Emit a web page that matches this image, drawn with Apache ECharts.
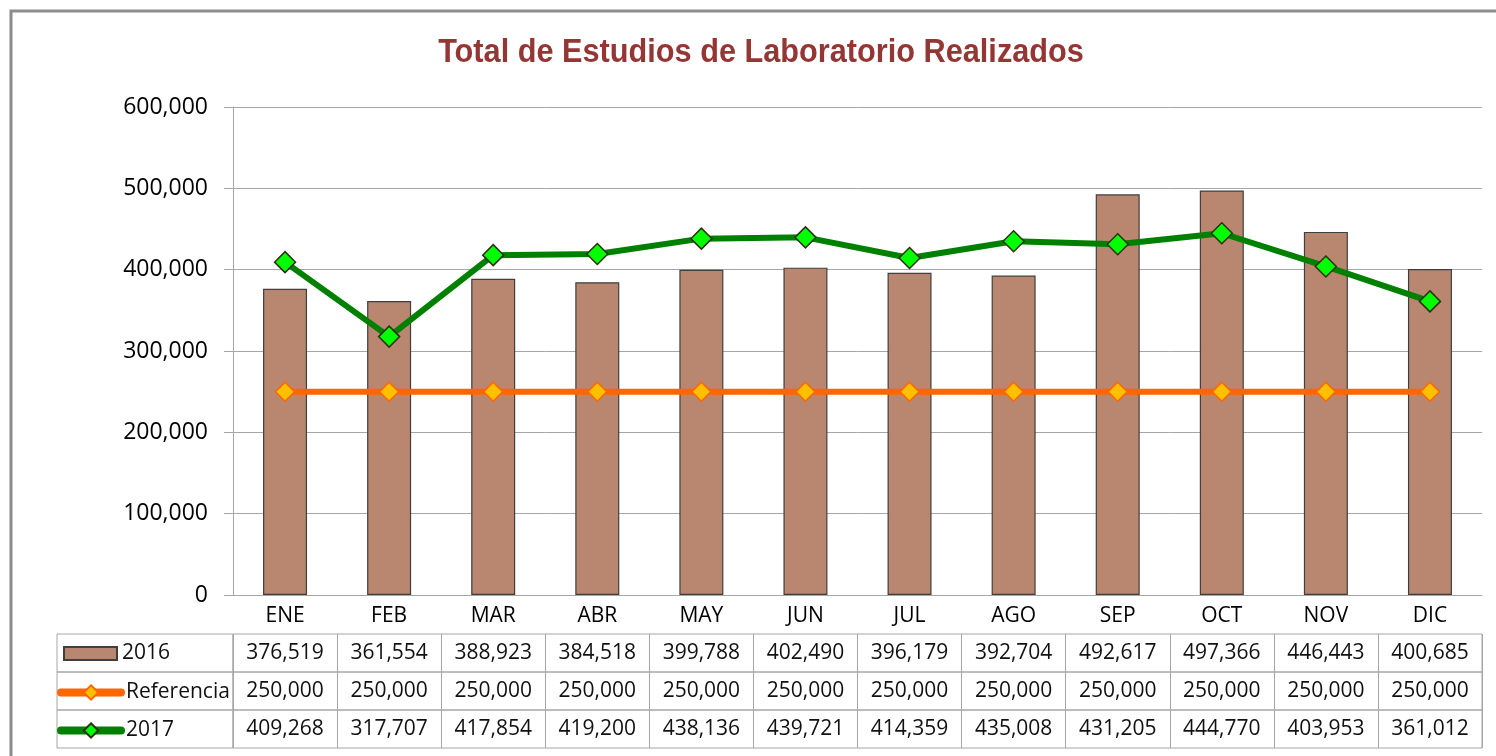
<!DOCTYPE html>
<html>
<head>
<meta charset="utf-8">
<title>Total de Estudios de Laboratorio Realizados</title>
<script src="https://cdn.jsdelivr.net/npm/echarts@6/dist/echarts.min.js"></script>
<style>
	html, body { margin: 0; padding: 0; background: #fff; }
	#chart { width: 1496px; height: 756px; }
</style>
</head>
<body>
<div id="chart"></div>
<script>
// datos del grafico
var meses = ['ENE', 'FEB', 'MAR', 'ABR', 'MAY', 'JUN', 'JUL', 'AGO', 'SEP', 'OCT', 'NOV', 'DIC'];
var datos2016 = [376519, 361554, 388923, 384518, 399788, 402490, 396179, 392704, 492617, 497366, 446443, 400685];
var referencia = [250000, 250000, 250000, 250000, 250000, 250000, 250000, 250000, 250000, 250000, 250000, 250000];
var datos2017 = [409268, 317707, 417854, 419200, 438136, 439721, 414359, 435008, 431205, 444770, 403953, 361012];
var ejeY = { min: 0, max: 600000, interval: 100000 };

var fuente = 'Open Sans';
var gris = '#A6A6A6';

function fmt(v) {
	return Number(v).toLocaleString('en-US');
}

// filas de la tabla de datos
var filas = [
	{ name: '2016', values: datos2016 },
	{ name: 'Referencia', values: referencia },
	{ name: '2017', values: datos2017 }
];
var filaTop = [634, 672, 710];
var filaAlto = 38;

var myChart = echarts.init(document.getElementById('chart'));

var grids = [{ left: 233, right: 14, top: 107, bottom: 161 }];
var xAxes = [{
	type: 'category',
	data: meses,
	gridIndex: 0,
	axisLine: { lineStyle: { color: gris, width: 1 } },
	axisTick: { length: 39, interval: 0, lineStyle: { color: gris } },
	axisLabel: { margin: 11, fontFamily: fuente, fontSize: 21, color: '#000' }
}];
var yAxes = [{
	type: 'value',
	gridIndex: 0,
	min: ejeY.min,
	max: ejeY.max,
	interval: ejeY.interval,
	axisLine: { show: true, lineStyle: { color: gris } },
	axisTick: { show: true, length: 9, lineStyle: { color: gris } },
	splitLine: { lineStyle: { color: gris, width: 1 } },
	axisLabel: { margin: 25, fontFamily: fuente, fontSize: 23, color: '#000', formatter: fmt }
}];

filas.forEach(function (f, i) {
	grids.push({
		left: 233, right: 14, top: filaTop[i], height: filaAlto,
		show: true, borderColor: gris, borderWidth: 1
	});
	xAxes.push({
		type: 'category',
		data: meses,
		gridIndex: i + 1,
		axisLine: { show: false },
		axisTick: { show: false },
		splitLine: { show: true, interval: 0, lineStyle: { color: gris } },
		axisLabel: {
			inside: true, margin: filaAlto / 2, verticalAlign: 'middle', interval: 0,
			fontFamily: fuente, fontSize: 21, color: '#111',
			formatter: function (v, idx) { return fmt(f.values[idx]); }
		}
	});
	yAxes.push({ type: 'value', gridIndex: i + 1, min: 0, max: 1, show: false });
});

// celdas de la columna de nombres, marco y titulo
var graficos = filaTop.map(function (t) {
	return {
		type: 'rect',
		shape: { x: 57, y: t, width: 176, height: filaAlto },
		style: { fill: 'none', stroke: gris, lineWidth: 1 },
		silent: true
	};
});
graficos.push({
	type: 'rect',
	shape: { x: 11, y: 11, width: 1500, height: 760 },
	style: { fill: 'none', stroke: '#8C8C8C', lineWidth: 3 },
	silent: true
});
graficos.push({
	type: 'text',
	x: 761,
	y: 53,
	scaleX: 0.93,
	silent: true,
	style: {
		text: 'Total de Estudios de Laboratorio Realizados',
		fontFamily: 'Liberation Sans',
		fontWeight: 'bold',
		fontSize: 33,
		fill: '#943634',
		align: 'center',
		verticalAlign: 'middle'
	}
});

var leyendaBase = {
	orient: 'horizontal',
	selectedMode: false,
	padding: 0,
	textStyle: { fontFamily: fuente, fontSize: 21, color: '#111' }
};

var option = {
	backgroundColor: '#fff',
	animation: false,
	legend: [
		Object.assign({}, leyendaBase, {
			data: [{ name: '2016', icon: 'rect' }], left: 63, top: 643, itemWidth: 53, itemHeight: 13
		}),
		Object.assign({}, leyendaBase, {
			data: ['Referencia'], left: 57, top: 682, itemWidth: 60, itemHeight: 18,
			lineStyle: { width: 8, cap: 'round' }
		}),
		Object.assign({}, leyendaBase, {
			data: ['2017'], left: 57, top: 720, itemWidth: 60, itemHeight: 18,
			lineStyle: { width: 8, cap: 'round' }
		})
	],
	grid: grids,
	xAxis: xAxes,
	yAxis: yAxes,
	graphic: graficos,
	series: [
		{
			name: '2016',
			type: 'bar',
			xAxisIndex: 0, yAxisIndex: 0,
			barWidth: 44,
			data: datos2016,
			itemStyle: { color: '#B98670', borderColor: '#3F3F3F', borderWidth: 1.2 }
		},
		{
			name: 'Referencia',
			type: 'line',
			xAxisIndex: 0, yAxisIndex: 0,
			data: referencia,
			symbol: 'diamond',
			symbolSize: 19,
			lineStyle: { color: '#FF6600', width: 6 },
			itemStyle: { color: '#FFC000', borderColor: '#FF6600', borderWidth: 1.5 },
			z: 3
		},
		{
			name: '2017',
			type: 'line',
			xAxisIndex: 0, yAxisIndex: 0,
			data: datos2017,
			symbol: 'diamond',
			symbolSize: 21,
			lineStyle: { color: '#008000', width: 6 },
			itemStyle: { color: '#00FF00', borderColor: '#2F2F10', borderWidth: 1.5 },
			z: 4
		}
	]
};

myChart.setOption(option);
</script>
</body>
</html>
